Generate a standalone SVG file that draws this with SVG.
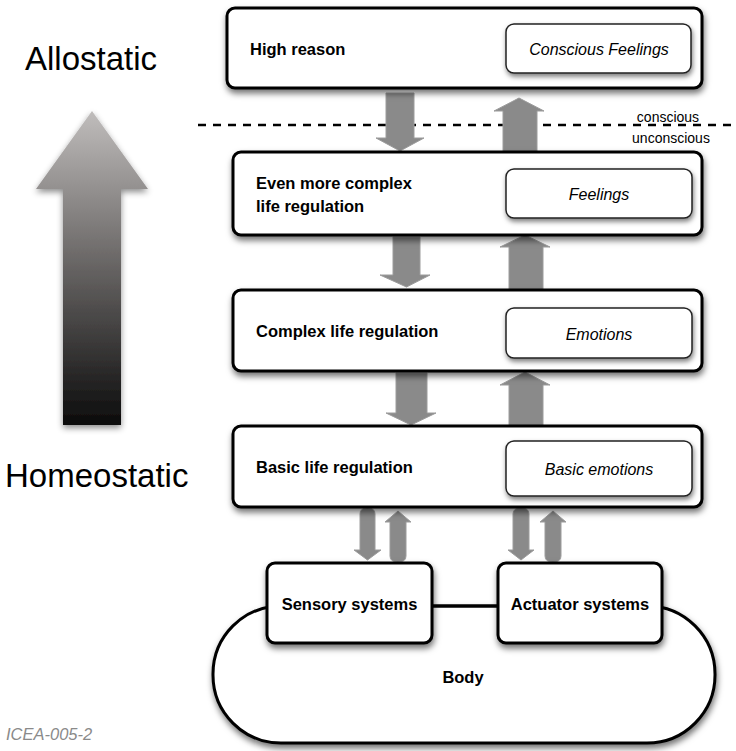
<svg xmlns="http://www.w3.org/2000/svg" width="736" height="751" viewBox="0 0 736 751">
<defs>
  <filter id="shadow" x="-10%" y="-20%" width="125%" height="150%">
    <feDropShadow dx="1" dy="4" stdDeviation="3" flood-color="#000" flood-opacity="0.55"/>
  </filter>
  <filter id="shadowSm" x="-10%" y="-20%" width="125%" height="150%">
    <feDropShadow dx="1" dy="3" stdDeviation="2.5" flood-color="#000" flood-opacity="0.5"/>
  </filter>
  <filter id="arrowShadow" x="-30%" y="-10%" width="160%" height="120%">
    <feDropShadow dx="0" dy="3" stdDeviation="3" flood-color="#000" flood-opacity="0.45"/>
  </filter>
  <linearGradient id="bigGrad" x1="0" y1="0" x2="0" y2="1">
    <stop offset="0" stop-color="#c0bdbc"/>
    <stop offset="0.45" stop-color="#6f6c6b"/>
    <stop offset="1" stop-color="#0c0c0c"/>
  </linearGradient>
  <style>
    .box { fill: #fff; stroke: #000; stroke-width: 3; }
    .inner { fill: #fff; stroke: #222; stroke-width: 1.5; }
    .lbl { font-family: "Liberation Sans", Arial, sans-serif; font-weight: bold; font-size: 16.5px; fill: #000; }
    .ital { font-family: "Liberation Sans", Arial, sans-serif; font-style: italic; font-size: 16px; fill: #000; }
    .side { font-family: "Liberation Sans", Arial, sans-serif; font-size: 33px; fill: #000; }
    .small { font-family: "Liberation Sans", Arial, sans-serif; font-size: 14px; fill: #000; }
    .blk { fill: #8a8a8a; stroke: #9c9c9c; stroke-width: 1; }
  </style>
</defs>
<rect width="736" height="751" fill="#fff"/>

<!-- side labels and big arrow -->
<g id="allostatic"><text class="side" x="25" y="70">Allostatic</text></g>
<g id="homeostatic"><text class="side" x="5" y="487">Homeostatic</text></g>
<g id="big-arrow">
  <path d="M92,111 L148,189 L121,189 L121,425 L63,425 L63,189 L36,189 Z" fill="url(#bigGrad)" filter="url(#arrowShadow)"/>
</g>
<g id="code"><text x="6" y="740" font-family="Liberation Sans, Arial, sans-serif" font-style="italic" font-size="16.5" fill="#8a8a8a">ICEA-005-2</text></g>

<!-- dashed boundary -->
<g id="boundary">
  <line x1="198" y1="125" x2="736" y2="125" stroke="#000" stroke-width="2.5" stroke-dasharray="8 7"/>
  <text class="small" x="668" y="122" text-anchor="middle">conscious</text>
  <text class="small" x="671" y="143" text-anchor="middle">unconscious</text>
</g>

<!-- body -->
<g id="body">
  <rect x="213" y="606" width="502" height="137" rx="68" ry="68" class="box" filter="url(#shadow)"/>
  <text class="lbl" x="463" y="683" text-anchor="middle">Body</text>
</g>

<!-- connectors -->
<g id="connectors">
  <line x1="432" y1="606" x2="498" y2="606" stroke="#000" stroke-width="3"/>
  <path class="blk" d="M386,93 L414,93 L414,138 L424,138 L400,151 L376,138 L386,138 Z"/>
  <path class="blk" d="M519,98 L544,111 L537,111 L537,152 L503,152 L503,111 L494,111 Z"/>
  <path class="blk" d="M393,237 L420,237 L420,275 L430,275 L406.5,287 L380,275 L393,275 Z"/>
  <path class="blk" d="M525,235 L550,247 L543,247 L543,290 L509,290 L509,247 L500,247 Z"/>
  <path class="blk" d="M396,373 L427,373 L427,413 L436,413 L411,425 L386,413 L396,413 Z"/>
  <path class="blk" d="M525,372 L550,385 L543,385 L543,427 L509,427 L509,385 L500,385 Z"/>
  <path class="blk" d="M360,550 L360,514 Q360,508 367.5,508 Q375,508 375,514 L375,550 L381,550 L367.5,560 L354,550 Z"/>
  <path class="blk" d="M398,511 L411,522 L406,522 L406,556 Q406,562 398,562 Q390,562 390,556 L390,522 L385,522 Z"/>
  <path class="blk" d="M513,550 L513,514 Q513,508 521,508 Q529,508 529,514 L529,550 L534,550 L521,560 L508,550 Z"/>
  <path class="blk" d="M553,511 L566,522 L561,522 L561,556 Q561,562 553,562 Q545,562 545,556 L545,522 L540,522 Z"/>
</g>

<!-- level boxes -->
<g id="high-reason">
  <rect x="227" y="8" width="475" height="80" rx="8" class="box" filter="url(#shadow)"/>
  <text class="lbl" x="250" y="55">High reason</text>
  <rect x="506" y="24" width="185" height="49" rx="8" class="inner" filter="url(#shadowSm)"/>
  <text class="ital" x="599" y="55" text-anchor="middle">Conscious Feelings</text>
</g>
<g id="even-more-complex">
  <rect x="233" y="152" width="469" height="83" rx="8" class="box" filter="url(#shadow)"/>
  <text class="lbl" x="256" y="189">Even more complex</text>
  <text class="lbl" x="256" y="212">life regulation</text>
  <rect x="506" y="169" width="186" height="49" rx="8" class="inner" filter="url(#shadowSm)"/>
  <text class="ital" x="599" y="200" text-anchor="middle">Feelings</text>
</g>
<g id="complex">
  <rect x="233" y="290" width="469" height="81" rx="8" class="box" filter="url(#shadow)"/>
  <text class="lbl" x="256" y="337">Complex life regulation</text>
  <rect x="506" y="308" width="186" height="50" rx="8" class="inner" filter="url(#shadowSm)"/>
  <text class="ital" x="599" y="340" text-anchor="middle">Emotions</text>
</g>
<g id="basic">
  <rect x="233" y="426" width="469" height="81" rx="8" class="box" filter="url(#shadow)"/>
  <text class="lbl" x="256" y="473">Basic life regulation</text>
  <rect x="506" y="441" width="186" height="55" rx="8" class="inner" filter="url(#shadowSm)"/>
  <text class="ital" x="599" y="475" text-anchor="middle">Basic emotions</text>
</g>

<!-- system boxes -->
<g id="sensory">
  <rect x="267" y="563" width="165" height="80" rx="8" class="box" filter="url(#shadow)"/>
  <text class="lbl" x="349.5" y="610" text-anchor="middle">Sensory systems</text>
</g>
<g id="actuator">
  <rect x="498" y="563" width="164" height="80" rx="8" class="box" filter="url(#shadow)"/>
  <text class="lbl" x="580" y="610" text-anchor="middle">Actuator systems</text>
</g>
</svg>
